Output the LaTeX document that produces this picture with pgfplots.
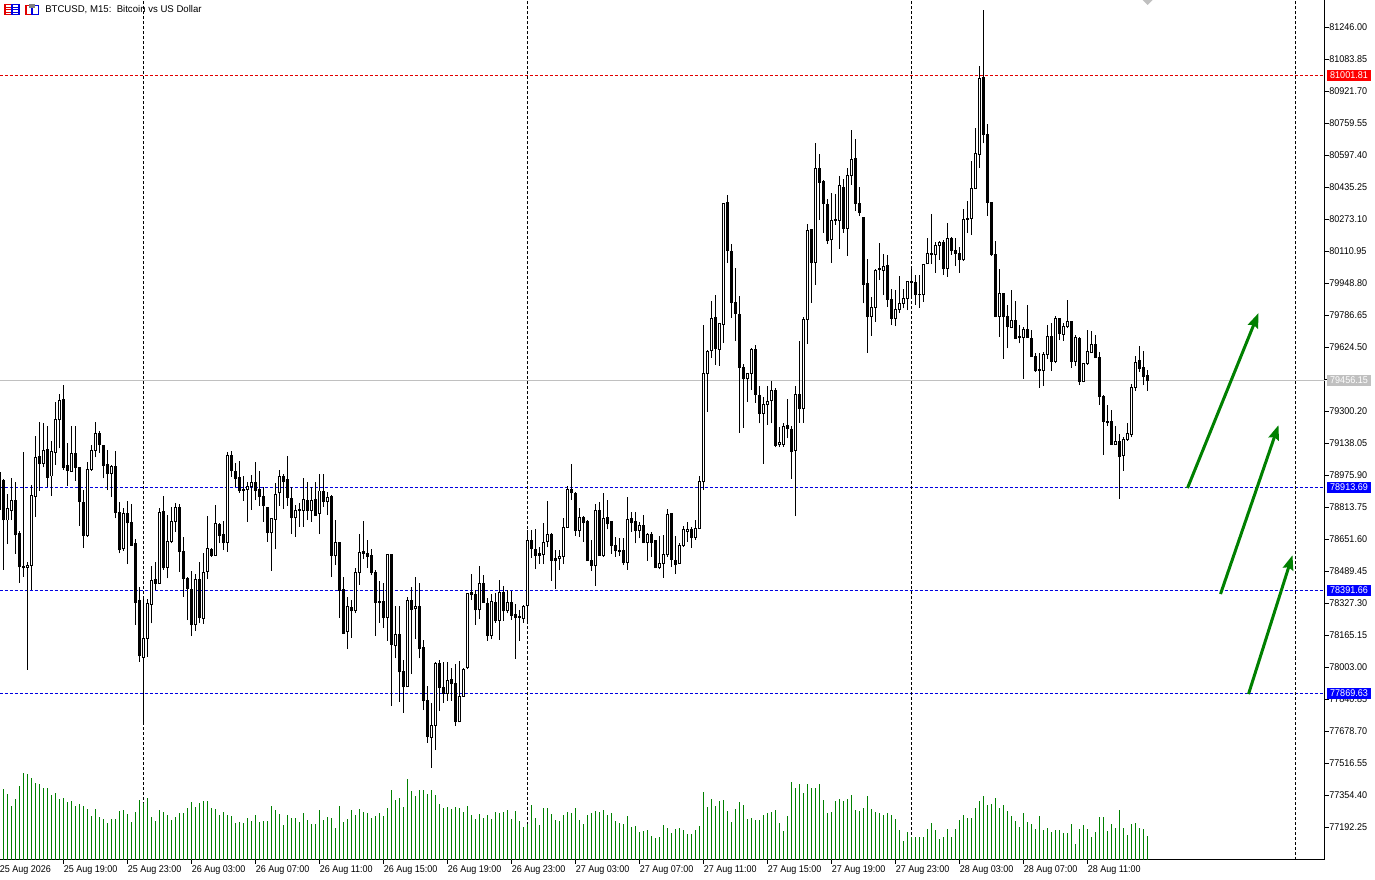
\documentclass[border=0pt]{standalone}
\usepackage{pgfplots}
\pgfplotsset{compat=1.18}
\usepackage{pgfplotstable}
\usepackage{fontspec}
\usetikzlibrary{arrows.meta}
\setmainfont{Liberation Sans}
\newfontfamily\datefont[FakeStretch=0.92]{Liberation Sans}
\newfontfamily\pricefont[FakeStretch=0.92]{Liberation Sans}
\newfontfamily\titlefont[FakeStretch=0.98]{Liberation Sans}

\definecolor{mtgreen}{RGB}{0,128,0}
\definecolor{mtgrey}{RGB}{192,192,192}
\definecolor{mtblue}{RGB}{0,0,225}
\definecolor{mtred}{RGB}{225,0,0}

% BTCUSD M15: index, open, high, low, close, volume (bar height)
\pgfplotstableread{
i o h l c v
0 78988 78993 78748 78799 60
1 78946 78956 78495 78748 71
2 78748 78878 78626 78804 66
3 78795 78962 78748 78849 54
4 78849 78939 78576 78672 61
5 78680 78692 78430 78511 74
6 78510 79094 78461 78506 86
7 78508 78533 77988 78517 85
8 78518 78925 78393 78870 81
9 78866 79174 78765 79065 77
10 79072 79246 78897 79032 76
11 79035 79241 79015 79098 72
12 79103 79224 78913 78964 72
13 78971 79148 78870 79093 65
14 79089 79344 79027 79258 67
15 79255 79386 79111 79354 61
16 79361 79432 79001 79015 62
17 79022 79136 78920 79001 58
18 78996 79224 78993 79086 59
19 79086 79224 78947 79013 54
20 79015 79015 78718 78841 56
21 78839 78900 78606 78669 54
22 78669 79044 78663 79005 51
23 79005 79128 78998 79098 44
24 79099 79246 79065 79187 51
25 79184 79201 79089 79130 43
26 79128 79128 78959 79023 41
27 79027 79103 78900 78983 37
28 78983 79027 78866 79020 41
29 79017 79098 78756 78785 41
30 78787 78841 78579 78596 49
31 78603 78807 78593 78782 50
32 78782 78844 78525 78734 46
33 78736 78827 78616 78621 38
34 78631 78652 78216 78329 48
35 78338 78410 78030 78059 60
36 78052 78346 77718 78148 57
37 78148 78346 78055 78326 62
38 78321 78515 78224 78442 43
39 78447 78533 78393 78427 39
40 78427 78807 78427 78787 50
41 78792 78870 78495 78506 48
42 78508 78773 78452 78640 45
43 78638 78816 78630 78741 40
44 78740 78836 78689 78812 43
45 78812 78827 78486 78588 47
46 78589 78660 78359 78451 47
47 78452 78461 78241 78400 52
48 78398 78490 78160 78216 58
49 78218 78474 78187 78447 53
50 78447 78533 78224 78253 57
51 78250 78582 78221 78483 59
52 78488 78768 78449 78604 59
53 78599 78604 78562 78567 52
54 78569 78824 78566 78731 51
55 78726 78731 78630 78669 45
56 78677 78743 78596 78633 48
57 78635 79091 78588 79076 45
58 79076 79098 78968 78998 44
59 78995 79035 78913 78957 37
60 78964 79047 78886 78897 38
61 78905 78973 78846 78898 37
62 78903 78942 78740 78917 42
63 78917 78976 78799 78939 39
64 78939 79044 78849 78897 45
65 78903 78996 78819 78866 38
66 78866 78917 78740 78821 39
67 78812 78816 78638 78684 39
68 78684 78756 78491 78756 54
69 78751 78934 78601 78878 50
70 78886 79001 78819 78968 46
71 78971 78979 78804 78942 35
72 78951 79072 78819 78861 45
73 78857 78917 78677 78759 42
74 78759 78824 78663 78797 42
75 78803 78832 78714 78795 38
76 78795 78962 78714 78851 47
77 78849 78942 78748 78795 40
78 78795 78917 78739 78847 36
79 78852 78942 78768 78773 36
80 78780 78981 78677 78895 50
81 78895 78981 78815 78841 40
82 78841 78891 78773 78864 43
83 78869 78874 78461 78570 42
84 78567 78748 78520 78634 32
85 78636 78638 78253 78393 54
86 78396 78457 78170 78173 38
87 78182 78356 78094 78310 41
88 78305 78342 78151 78287 50
89 78287 78503 78275 78482 45
90 78481 78677 78420 78584 51
91 78586 78743 78552 78580 48
92 78579 78646 78504 78562 47
93 78569 78601 78467 78481 42
94 78484 78494 78162 78329 44
95 78337 78439 78227 78332 47
96 78336 78427 78202 78253 44
97 78253 78575 78135 78575 52
98 78575 78575 77807 78118 70
99 78111 78312 78047 78168 60
100 78168 78312 77827 77979 62
101 77981 78038 77771 77903 53
102 77903 78356 77903 78341 80
103 78341 78406 77967 78295 69
104 78298 78459 78145 78310 64
105 78310 78427 78047 78096 70
106 78102 78140 77785 77832 70
107 77834 77907 77619 77650 66
108 77645 77819 77493 77707 70
109 77707 78030 77582 78021 65
110 78021 78038 77780 77898 56
111 77901 78030 77822 77869 52
112 77869 78030 77831 77935 53
113 77942 77996 77832 77917 51
114 77920 78018 77704 77726 53
115 77726 78033 77724 77854 52
116 77854 77999 77852 77991 48
117 77999 78379 77993 78376 54
118 78381 78472 78342 78373 45
119 78373 78393 78216 78292 41
120 78293 78515 78246 78427 46
121 78427 78469 78329 78329 42
122 78325 78351 78135 78162 45
123 78162 78373 78143 78336 41
124 78330 78376 78227 78238 48
125 78241 78444 78140 78383 47
126 78381 78413 78238 78287 48
127 78287 78393 78275 78330 50
128 78330 78390 78241 78266 41
129 78271 78322 78045 78253 49
130 78261 78292 78135 78253 39
131 78248 78317 78227 78312 33
132 78314 78697 78238 78645 36
133 78646 78697 78557 78602 55
134 78601 78700 78499 78570 42
135 78579 78613 78525 78570 35
136 78572 78731 78525 78636 52
137 78638 78844 78609 78675 52
138 78675 78680 78439 78545 46
139 78555 78596 78398 78542 40
140 78552 78596 78494 78564 39
141 78562 78756 78525 78710 45
142 78712 78920 78710 78903 48
143 78903 79031 78849 78886 47
144 78883 78892 78667 78694 52
145 78694 78807 78664 78762 40
146 78762 78768 78638 78735 36
147 78738 78748 78540 78542 45
148 78544 78647 78492 78517 47
149 78517 78829 78414 78797 49
150 78797 78841 78566 78567 48
151 78567 78883 78562 78757 50
152 78762 78850 78701 78728 45
153 78738 78738 78576 78618 47
154 78620 78664 78562 78591 39
155 78596 78655 78566 78588 37
156 78591 78655 78520 78532 36
157 78534 78863 78495 78752 44
158 78757 78790 78689 78735 33
159 78741 78790 78630 78694 34
160 78694 78740 78655 78721 28
161 78721 78774 78630 78633 29
162 78633 78684 78542 78677 30
163 78677 78689 78562 78633 24
164 78642 78647 78503 78507 22
165 78507 78667 78498 78529 23
166 78529 78672 78456 78574 35
167 78571 78802 78562 78777 32
168 78782 78785 78512 78549 27
169 78544 78667 78475 78522 31
170 78529 78630 78525 78620 32
171 78618 78718 78613 78701 30
172 78691 78740 78638 78701 26
173 78698 78714 78608 78659 26
174 78660 78748 78647 78706 30
175 78704 78971 78701 78942 34
176 78942 79736 78900 79490 68
177 79490 79610 79297 79603 53
178 79606 79858 79571 79770 61
179 79775 79888 79534 79618 54
180 79613 79745 79529 79743 59
181 79740 80356 79647 80353 60
182 80358 80395 80052 80113 49
183 80110 80145 79773 79849 38
184 79851 80023 79655 79795 51
185 79790 79883 79191 79522 58
186 79522 79539 79216 79464 55
187 79464 79495 79348 79491 41
188 79491 79618 79407 79613 42
189 79613 79635 79343 79385 40
190 79380 79427 79238 79289 40
191 79289 79370 79032 79334 45
192 79333 79427 79230 79349 47
193 79353 79453 79238 79405 48
194 79405 79415 79116 79128 50
195 79130 79221 79116 79140 37
196 79133 79241 79120 79223 29
197 79228 79360 79162 79211 44
198 79208 79225 78956 79094 78
199 79101 79427 78768 79383 72
200 79385 79654 79241 79312 76
201 79312 79775 79241 79765 67
202 79765 80248 79640 80216 76
203 80218 80221 79849 80052 72
204 80052 80660 79939 80530 72
205 80530 80603 80268 80459 76
206 80461 80471 80204 80353 60
207 80349 80375 80147 80163 47
208 80167 80405 80052 80268 48
209 80273 80400 80243 80265 59
210 80265 80491 80121 80441 61
211 80434 80476 80204 80226 59
212 80226 80530 80088 80493 61
213 80493 80724 80446 80576 65
214 80581 80679 80316 80351 50
215 80353 80434 80289 80305 49
216 80283 80285 79846 79942 52
217 79947 80069 79596 79778 64
218 79778 79876 79682 79826 51
219 79826 80018 79753 80013 48
220 80017 80150 79964 80020 47
221 80012 80094 79888 80032 45
222 80039 80091 79829 79866 47
223 79866 79917 79736 79768 45
224 79768 79914 79731 79816 41
225 79816 79985 79799 79846 30
226 79846 79917 79821 79871 19
227 79870 79961 79812 79957 28
228 79957 80023 79880 79951 23
229 79952 79990 79838 79890 23
230 79890 79990 79824 79892 23
231 79890 80044 79854 80042 23
232 80047 80177 80045 80099 31
233 80099 80299 80045 80093 37
234 80093 80155 80001 80138 30
235 80138 80164 80066 80155 21
236 80155 80167 79990 80022 23
237 80023 80251 79981 80174 31
238 80177 80180 80091 80113 23
239 80115 80175 80035 80099 31
240 80099 80133 80001 80067 40
241 80066 80322 80062 80272 45
242 80273 80365 80204 80277 42
243 80277 80566 80192 80427 42
244 80427 80733 80424 80606 52
245 80601 81049 80533 80986 59
246 80991 81332 80657 80701 64
247 80702 80753 80289 80358 55
248 80358 80361 80086 80093 56
249 80094 80160 79775 79778 62
250 79778 80018 79677 79897 52
251 79897 79897 79564 79778 55
252 79778 79838 79618 79728 49
253 79723 79914 79719 79760 44
254 79760 79858 79665 79667 39
255 79680 79736 79643 79672 33
256 79674 79724 79463 79714 47
257 79714 79838 79672 79672 38
258 79670 79711 79576 79576 36
259 79579 79593 79500 79505 31
260 79513 79593 79419 79505 44
261 79505 79601 79427 79589 30
262 79589 79736 79564 79679 32
263 79679 79745 79505 79550 28
264 79550 79782 79542 79770 30
265 79770 79770 79660 79692 30
266 79689 79745 79657 79731 27
267 79728 79863 79719 79755 27
268 79755 79758 79520 79550 36
269 79550 79686 79530 79674 16
270 79670 79677 79432 79449 31
271 79452 79542 79446 79539 35
272 79542 79711 79534 79603 31
273 79596 79706 79593 79638 23
274 79638 79684 79567 79571 28
275 79572 79601 79331 79373 43
276 79376 79382 79078 79246 43
277 79248 79331 79224 79241 29
278 79248 79306 79128 79130 36
279 79130 79224 79128 79145 32
280 79147 79184 78856 79069 50
281 79074 79167 78998 79157 32
282 79157 79238 79150 79187 25
283 79181 79437 79167 79420 36
284 79420 79579 79403 79547 37
285 79554 79630 79500 79517 32
286 79522 79606 79432 79474 31
287 79478 79508 79403 79454 24
}\candles

\begin{document}
\begin{tikzpicture}
  % one picture pixel is 0.75pt; axis runs from px -2 to px 1324.5
  \begin{axis}[
    name=price,
    at={(-1.5pt,14.625pt)}, anchor=south west,
    scale only axis,
    width=994.875pt, height=644.625pt,
    xmin=-0.375, xmax=331.25,
    ymin=77027.7, ymax=81383,
    clip=false,
    axis x line=bottom, axis y line=right,
    axis line style={-, line width=0.75pt, black},
    tick align=outside, major tick length=3pt,
    tick style={line width=0.75pt, black},
    xtick={0,16,...,272},
    xticklabels={25 Aug 2026,25 Aug 19:00,25 Aug 23:00,26 Aug 03:00,26 Aug 07:00,26 Aug 11:00,26 Aug 15:00,26 Aug 19:00,26 Aug 23:00,27 Aug 03:00,27 Aug 07:00,27 Aug 11:00,27 Aug 15:00,27 Aug 19:00,27 Aug 23:00,28 Aug 03:00,28 Aug 07:00,28 Aug 11:00},
    xticklabel style={font=\datefont\fontsize{7.35pt}{8pt}\selectfont, anchor=north west, inner sep=0pt, yshift=-1.2pt},
    ytick={77192.25,77354.40,77516.55,77678.70,77840.85,78003.00,78165.15,78327.30,78489.45,78651.60,78813.75,78975.90,79138.05,79300.20,79462.35,79624.50,79786.65,79948.80,80110.95,80273.10,80435.25,80597.40,80759.55,80921.70,81083.85,81246.00},
    yticklabel style={font=\pricefont\fontsize{7.35pt}{8pt}\selectfont, anchor=west, inner sep=0pt, xshift=0.5pt, yshift=-0.4pt,
      /pgf/number format/.cd, fixed, fixed zerofill, precision=2, 1000 sep={}, assume math mode=true},
    scaled y ticks=false,
  ]
  % level lines
  \addplot[forget plot, mtgrey, line width=0.75pt] coordinates {(0,79456.15) (331.25,79456.15)};
  \addplot[forget plot, mtred, line width=0.75pt, dash pattern=on 2.25pt off 1.5pt] coordinates {(0,81001.81) (331.25,81001.81)};
  \addplot[forget plot, mtblue, line width=0.75pt, dash pattern=on 2.25pt off 1.5pt] coordinates {(0,78913.69) (331.25,78913.69)};
  \addplot[forget plot, mtblue, line width=0.75pt, dash pattern=on 2.25pt off 1.5pt] coordinates {(0,78391.66) (331.25,78391.66)};
  \addplot[forget plot, mtblue, line width=0.75pt, dash pattern=on 2.25pt off 1.5pt] coordinates {(0,77869.63) (331.25,77869.63)};
  % day separators
  \addplot[forget plot, black, line width=0.75pt, dash pattern=on 2.25pt off 1.5pt] coordinates {(36,77027.7) (36,81383)};
  \addplot[forget plot, black, line width=0.75pt, dash pattern=on 2.25pt off 1.5pt] coordinates {(132,77027.7) (132,81383)};
  \addplot[forget plot, black, line width=0.75pt, dash pattern=on 2.25pt off 1.5pt] coordinates {(228,77027.7) (228,81383)};
  \addplot[forget plot, black, line width=0.75pt, dash pattern=on 2.25pt off 1.5pt] coordinates {(324,77027.7) (324,81383)};
  % wicks
  \addplot[forget plot, draw=none, error bars/.cd, y dir=plus, y explicit, error mark=none,
    error bar style={draw=black, line width=0.75pt}]
    table[x=i, y=l, y error expr=\thisrow{h}-\thisrow{l}] {\candles};
  % bodies
  \addplot[forget plot, draw=none, error bars/.cd, y dir=plus, y explicit, error mark=none,
    error bar style={draw=black, line width=2.25pt}]
    table[x=i, y expr={min(\thisrow{o},\thisrow{c})-2.5}, y error expr={abs(\thisrow{o}-\thisrow{c})+5}] {\candles};
  % white inside of the rising candles
  \addplot[forget plot, draw=none, error bars/.cd, y dir=plus, y explicit, error mark=none,
    error bar style={draw=white, line width=0.75pt}]
    table[x=i, y expr={\thisrow{c}-\thisrow{o}>5 ? \thisrow{o}+2.5 : nan}, y error expr={abs(\thisrow{c}-\thisrow{o}-5)}] {\candles};
  % arrows
  \addplot[forget plot, mtgreen, line width=2.25pt, -{Stealth[length=11pt,width=8pt,inset=1.5pt]}] coordinates {(297,78910) (314.75,79797)};
  \addplot[forget plot, mtgreen, line width=2.25pt, -{Stealth[length=11pt,width=8pt,inset=1.5pt]}] coordinates {(305.25,78373) (319.75,79229)};
  \addplot[forget plot, mtgreen, line width=2.25pt, -{Stealth[length=11pt,width=8pt,inset=1.5pt]}] coordinates {(312.25,77866) (323.25,78570)};
  \end{axis}

  % volume pane, same frame, heights in pixels
  \begin{axis}[
    at={(-1.5pt,14.625pt)}, anchor=south west,
    scale only axis,
    width=994.875pt, height=644.625pt,
    xmin=-0.375, xmax=331.25,
    ymin=0, ymax=859.5,
    hide axis,
  ]
  \addplot[forget plot, ycomb, mtgreen, line width=0.75pt] table[x=i, y=v] {\candles};
  \end{axis}

  % header and price tags, in pixel units from the top left corner
  \begin{scope}[shift={(0,659.25pt)}, x=0.75pt, y=-0.75pt]
    \node[anchor=west, inner sep=0pt, font=\titlefont\fontsize{7.35pt}{8pt}\selectfont] at (45,9.5) {BTCUSD, M15:\ \ Bitcoin vs US Dollar};
    % chart icons
    \draw[mtred, line width=0.9pt] (5,4.5) rectangle (12,14.5);
    \draw[mtblue, line width=0.9pt] (12,4.5) rectangle (19,14.5);
    \draw[mtblue, line width=0.75pt] (12,7.5) -- (18,7.5) (12,10) -- (18,10) (12,12.5) -- (18,12.5);
    \draw[mtred, line width=0.75pt] (6,7.5) -- (11,7.5) (6,10) -- (11,10) (6,12.5) -- (11,12.5);
    \draw[mtred, line width=0.9pt] (26,5.5) rectangle (32,14.5);
    \draw[mtblue, line width=0.9pt] (32,5.5) rectangle (38.5,14.5);
    \fill[gray] (29,4) rectangle (35,8);
    \fill[mtgrey] (1147.5,-5) -- (1152.5,0) -- (1147.5,5) -- (1142.5,0) -- cycle;
    % price tags
    \fill[red] (1327,70) rectangle (1371,81);
    \node[white, inner sep=0pt, font=\pricefont\fontsize{7.35pt}{8pt}\selectfont] at (1349,75.5) {81001.81};
    \fill[mtgrey] (1327,375) rectangle (1371,386);
    \node[white, inner sep=0pt, font=\pricefont\fontsize{7.35pt}{8pt}\selectfont] at (1349,380.5) {79456.15};
    \fill[blue] (1327,482) rectangle (1371,493);
    \node[white, inner sep=0pt, font=\pricefont\fontsize{7.35pt}{8pt}\selectfont] at (1349,487.5) {78913.69};
    \fill[blue] (1327,585) rectangle (1371,596);
    \node[white, inner sep=0pt, font=\pricefont\fontsize{7.35pt}{8pt}\selectfont] at (1349,590.5) {78391.66};
    \fill[blue] (1327,688) rectangle (1371,699);
    \node[white, inner sep=0pt, font=\pricefont\fontsize{7.35pt}{8pt}\selectfont] at (1349,693.5) {77869.63};
  \end{scope}
  \pgfresetboundingbox
  \path (0,0) rectangle (1031.25pt,659.25pt);
\end{tikzpicture}
\end{document}
